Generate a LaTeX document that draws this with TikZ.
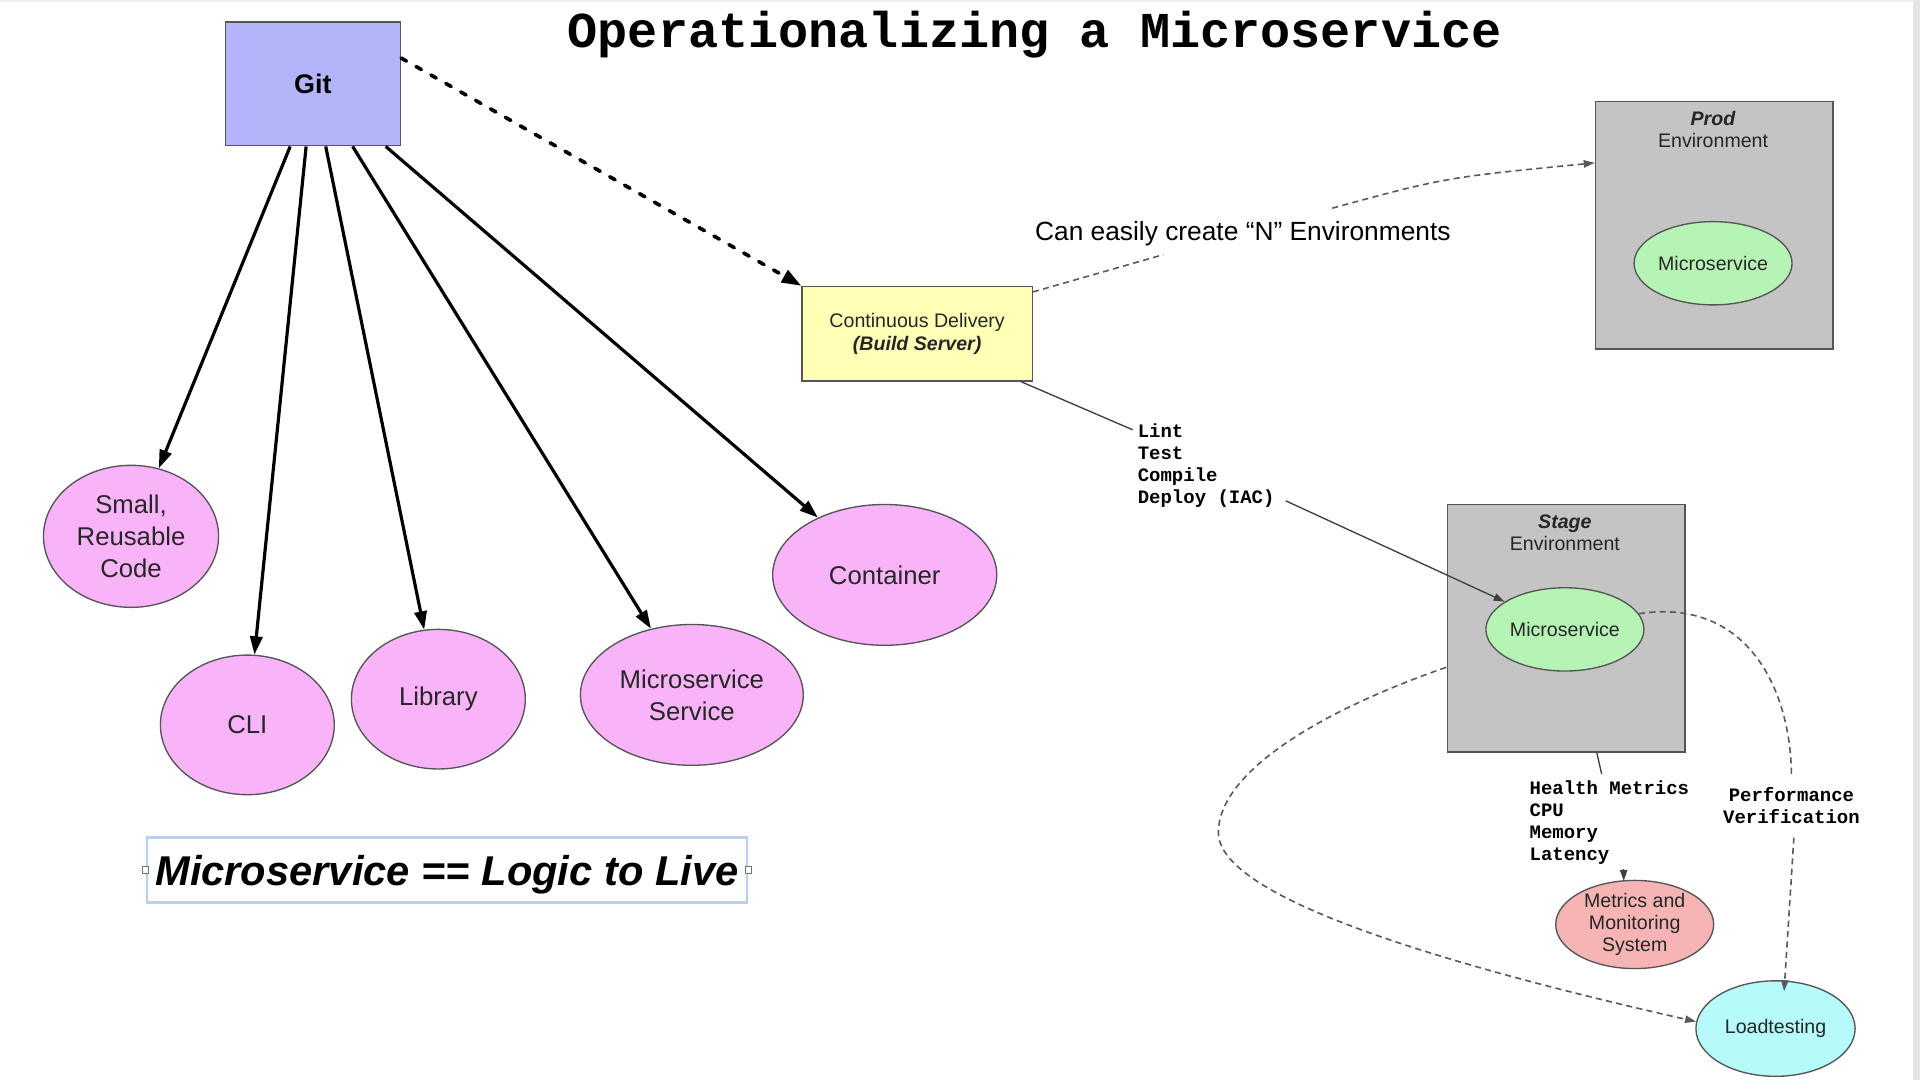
\documentclass[tikz,border=0pt]{standalone}
\usepackage{fontspec}
\setmainfont{Liberation Sans}
\setmonofont{Liberation Mono}
\usetikzlibrary{shapes.geometric,arrows.meta}
\definecolor{gitfill}{HTML}{B4B4FA}
\definecolor{cdfill}{HTML}{FFFFB6}
\definecolor{envfill}{HTML}{C4C4C4}
\definecolor{grnfill}{HTML}{B6F4B6}
\definecolor{purfill}{HTML}{F9B4F9}
\definecolor{redfill}{HTML}{F6B4B4}
\definecolor{cyanfill}{HTML}{B6FAFA}
\definecolor{outl}{HTML}{555555}
\definecolor{frameblue}{HTML}{B8CFEE}
\begin{document}
\begin{tikzpicture}[x=1pt,y=-1pt,
  boxnode/.style={rectangle, draw=outl, line width=1.2pt, inner sep=0pt, align=center},
  pell/.style={ellipse, draw=outl, line width=1.1pt, fill=purfill, inner sep=0pt, align=center,
    text=black!85, font=\fontsize{21}{26}\selectfont},
  smallell/.style={ellipse, draw=outl, line width=1.1pt, inner sep=0pt, align=center,
    minimum width=129pt, minimum height=68pt, text=black!85, font=\fontsize{16}{18}\selectfont},
  envbox/.style={rectangle, draw=outl, line width=1.2pt, fill=envfill, inner sep=0pt,
    minimum width=194pt, minimum height=202pt},
  envlbl/.style={align=center, inner sep=0pt, text=black!85, font=\fontsize{16}{18}\selectfont},
  thickarr/.style={draw=black, line width=2.6pt, -{Triangle[length=15pt,width=10pt]}},
  monolbl/.style={font=\ttfamily\bfseries\fontsize{15.5}{18}\selectfont, align=left, inner sep=0pt},
  thindash/.style={draw=black!65, line width=1.3pt, dash pattern=on 5pt off 3.5pt},
  thinsolid/.style={draw=black!75, line width=1.1pt},
  smalltip/.style={-{Triangle[length=9pt,width=6pt]}}
]
\useasboundingbox (0,0) rectangle (1568,882);
\fill[white] (0,0) rectangle (1568,882);
\fill[black!10] (1562,0) rectangle (1568,882);
\fill[black!6] (0,0) rectangle (1562,2);

% title
\node[font=\ttfamily\bfseries\fontsize{41}{46}\selectfont, inner sep=0pt] (title) at (845,28) {Operationalizing a Microservice};

% Git
\node[boxnode, fill=gitfill, minimum width=143pt, minimum height=101pt,
  font=\bfseries\fontsize{22}{26}\selectfont] (git) at (255.5,68.5) {Git};

% Continuous delivery
\node[boxnode, fill=cdfill, minimum width=188pt, minimum height=77pt,
  font=\fontsize{16}{19}\selectfont, text=black!85] (cd) at (749,272.5)
  {Continuous Delivery\\\textbf{\textit{(Build Server)}}};

% purple ellipses
\node[pell, minimum width=143pt, minimum height=116pt] (small) at (107,438) {Small,\\Reusable\\Code};
\node[pell, minimum width=142pt, minimum height=114pt] (cli) at (202,592) {CLI};
\node[pell, minimum width=142pt, minimum height=114pt] (lib) at (358,571) {Library};
\node[pell, minimum width=182pt, minimum height=115pt] (mss) at (565,567.5) {Microservice\\Service};
\node[pell, minimum width=183pt, minimum height=115pt] (cont) at (722.5,469.5) {Container};

% Git arrows
\draw[thickarr] ([xshift=-18.5pt]git.south) -- (small);
\draw[thickarr] ([xshift=-5.5pt]git.south) -- (cli);
\draw[thickarr] ([xshift=10.5pt]git.south) -- (lib);
\draw[thickarr] ([xshift=32.5pt]git.south) -- (mss);
\draw[thickarr] ([xshift=59.5pt]git.south) -- (cont);

% Git -> CD
\draw[line width=3pt, dash pattern=on 5pt off 9pt, line cap=round,
  -{Triangle[length=16pt,width=11pt]}] ([yshift=-30pt]git.north east) -- (cd.north west);

% Prod environment
\node[envbox] (prod) at (1400,184) {};
\node[envlbl] (prodlbl) at (1399,105.5) {\textbf{\textit{Prod}}\\Environment};
\node[smallell, fill=grnfill] (prodms) at (1399,215) {Microservice};

% Stage environment
\node[envbox] (stage) at (1279,513) {};
\node[envlbl] (stagelbl) at (1278,435) {\textbf{\textit{Stage}}\\Environment};
\node[smallell, fill=grnfill] (stagems) at (1278,514) {Microservice};

% Metrics and Loadtesting
\node[smallell, fill=redfill, minimum height=70pt] (metrics) at (1335,755) {Metrics and\\Monitoring\\System};
\node[smallell, fill=cyanfill, minimum width=130pt, minimum height=78pt] (load) at (1450,840) {Loadtesting};

% CD -> Prod (N environments)
\node[inner sep=0pt, font=\fontsize{21.5}{24}\selectfont] (nenv) at (1015,191) {Can easily create “N” Environments};
\coordinate (na) at (950,208);
\coordinate (nb) at (1088,170);
\draw[thindash] ([yshift=-5pt]cd.north east) -- (na);
\draw[thindash, smalltip] (nb) .. controls (1180,145) .. ([yshift=51pt]prod.west);

% CD -> Stage microservice
\node[monolbl, anchor=west] (lint) at (929,380) {Lint\\Test\\Compile\\Deploy (IAC)};
\coordinate (la) at (925,351);
\coordinate (lb) at (1050,409);
\draw[thinsolid] ([xshift=-10pt]cd.south east) -- (la);
\draw[thinsolid, smalltip] (lb) -- (stagems);

% Stage -> Metrics
\node[monolbl, anchor=west] (health) at (1249,672) {Health Metrics\\CPU\\Memory\\Latency};
\coordinate (ha) at (1308,632);
\coordinate (hb) at (1326,710);
\draw[thinsolid] ([xshift=25pt]stage.south) -- (ha);
\draw[thinsolid, smalltip] (hb) -- ([xshift=-9pt,yshift=-1pt]metrics.north);

% Stage microservice -> Loadtesting (performance)
\node[monolbl, align=center] (perf) at (1463,658) {Performance\\Verification};
\coordinate (pa) at (1463,632);
\coordinate (pb) at (1465,684);
\draw[thindash] (stagems.12) .. controls (1425,488) and (1462,560) .. (pa);
\draw[thindash, smalltip] (pb) -- ([xshift=7pt,yshift=-9pt]load.north);

% Stage -> Loadtesting (big loop)
\coordinate (sa) at (1181,545);
\coordinate (sb) at (995,680);
\draw[thindash, smalltip] (sa) .. controls (1080,580) and (995,630) .. (sb)
  .. controls (995,720) and (1100,770) .. (load.175);

% Logic to Live
\node[draw=frameblue, line width=1.8pt, minimum width=490pt, minimum height=53pt, inner sep=0pt,
  text height=24.5pt, text depth=0pt,
  font=\bfseries\itshape\fontsize{34}{38}\selectfont] (logic) at (365,710.5) {Microservice == Logic to Live};
\node[draw=black!55, fill=white, line width=0.8pt, minimum size=5pt, inner sep=0pt] (h1) at (logic.west) {};
\node[draw=black!55, fill=white, line width=0.8pt, minimum size=5pt, inner sep=0pt] (h2) at (logic.east) {};
\end{tikzpicture}
\end{document}
